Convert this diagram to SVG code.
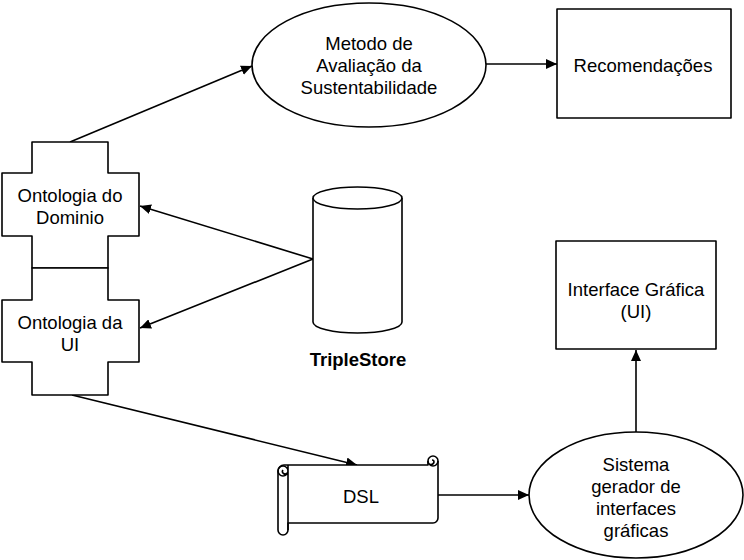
<svg xmlns="http://www.w3.org/2000/svg" width="744" height="560" viewBox="0 0 744 560">
<style>
.s{fill:#fff;stroke:#000;stroke-width:1.6;stroke-linejoin:round}
.t{font-family:"Liberation Sans",Arial,sans-serif;font-size:18.5px;fill:#000;text-anchor:middle}
.b{font-weight:bold}
.c{fill:none;stroke:#000;stroke-width:1.6}
</style>
<defs>
<marker id="a" markerWidth="12" markerHeight="10" refX="11" refY="5" orient="auto" markerUnits="userSpaceOnUse">
<path d="M0,0 L11,5 L0,10 Z" fill="#000"/>
</marker>
</defs>
<rect width="744" height="560" fill="#fff"/>
<g id="connectors">
<line class="c" x1="70" y1="142" x2="252" y2="66" marker-end="url(#a)"/>
<line class="c" x1="486" y1="64" x2="557" y2="64" marker-end="url(#a)"/>
<line class="c" x1="313" y1="259" x2="140" y2="206" marker-end="url(#a)"/>
<line class="c" x1="313" y1="259" x2="140" y2="328" marker-end="url(#a)"/>
<line class="c" x1="72" y1="395" x2="357" y2="465" marker-end="url(#a)"/>
<line class="c" x1="438" y1="495" x2="529" y2="495" marker-end="url(#a)"/>
<line class="c" x1="636" y1="432" x2="636" y2="350" marker-end="url(#a)"/>
</g>
<g id="metodo">
<ellipse class="s" cx="369" cy="65" rx="117" ry="62"/>
<text class="t" x="369" y="50">Metodo de</text>
<text class="t" x="369" y="72">Avaliação da</text>
<text class="t" x="369" y="94">Sustentabilidade</text>
</g>
<g id="recomendacoes">
<rect class="s" x="557" y="9" width="174" height="109"/>
<text class="t" x="643" y="72">Recomendações</text>
</g>
<g id="ontologia-dominio">
<path class="s" d="M32,142 H108 V173 H139 V236 H108 V268 H32 V236 H2 V173 H32 Z"/>
<text class="t" x="70" y="202">Ontologia do</text>
<text class="t" x="70" y="224">Dominio</text>
</g>
<g id="ontologia-ui">
<path class="s" d="M32,268 H108 V300 H139 V362 H108 V395 H32 V362 H2 V300 H32 Z"/>
<text class="t" x="70" y="329">Ontologia da</text>
<text class="t" x="70" y="351">UI</text>
</g>
<g id="triplestore">
<path class="s" d="M313,198 V322 A44.5,11 0 0 0 402,322 V198"/>
<ellipse class="s" cx="357.5" cy="198" rx="44.5" ry="11"/>
<text class="t b" x="358" y="366">TripleStore</text>
</g>
<g id="interface">
<rect class="s" x="556" y="241" width="160" height="108"/>
<text class="t" x="636" y="296">Interface Gráfica</text>
<text class="t" x="636" y="318">(UI)</text>
</g>
<g id="dsl">
<path class="s" d="M284,465 H428 V461 A5,5 0 0 1 438,461 V518 A5,5 0 0 1 433,523 H288 V530 A5,5 0 0 1 278,530 V471 A6,6 0 0 1 284,465 Z"/>
<path class="c" d="M428,461 A5,5 0 0 0 438,461 M428,461 A3,3 0 0 0 434,462 A2,2 0 0 0 432,460"/>
<path class="c" d="M288,465 V530 M278,471 A5,5 0 0 0 288,471 M278,471 A5,5 0 0 1 288,471 M283,470 A2.5,2.5 0 0 0 287,473"/>
<text class="t" x="361" y="503">DSL</text>
</g>
<g id="sistema">
<ellipse class="s" cx="636" cy="495" rx="107" ry="63"/>
<text class="t" x="636" y="471">Sistema</text>
<text class="t" x="636" y="493">gerador de</text>
<text class="t" x="636" y="515">interfaces</text>
<text class="t" x="636" y="537">gráficas</text>
</g>
</svg>
